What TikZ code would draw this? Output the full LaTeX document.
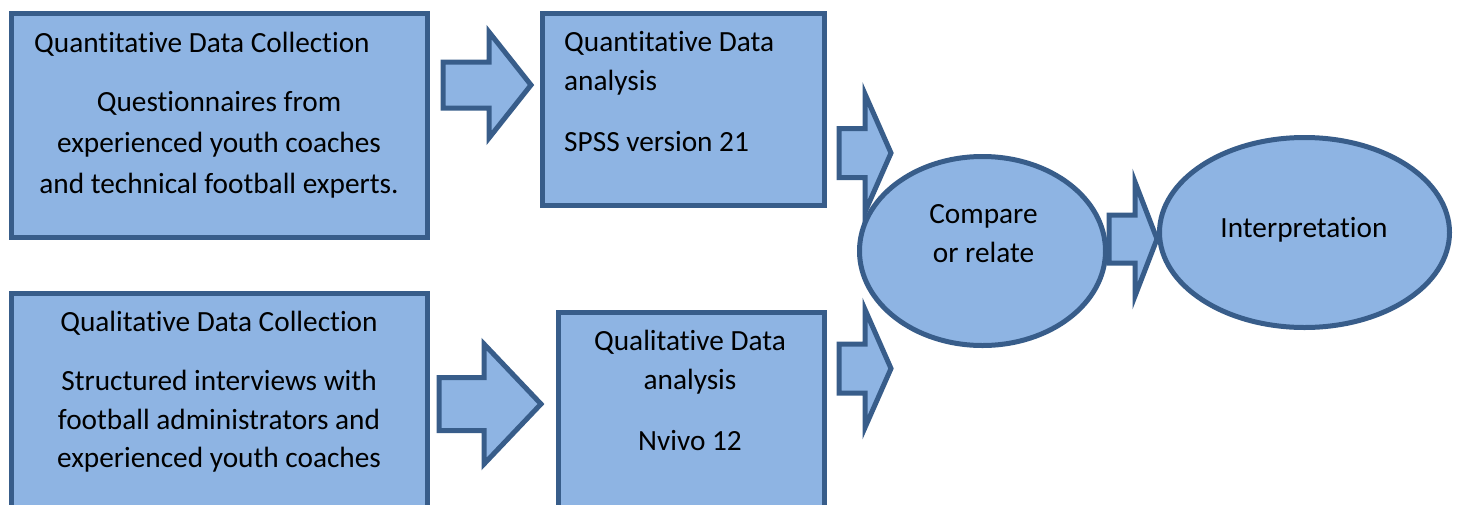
\documentclass[tikz,border=0pt]{standalone}
\usepackage{fontspec}
\setmainfont{Carlito}[Ligatures=NoCommon]
\usepackage{tikz}
\usetikzlibrary{shapes.geometric,positioning}
\definecolor{boxFill}{RGB}{142,180,227}
\definecolor{boxLine}{RGB}{56,93,138}

\tikzset{
  shapebox/.style={draw=boxLine, fill=boxFill, line width=5pt},
  txt/.style={inner sep=0pt, font=\fontsize{29.3}{39}\selectfont, align=center},
  txtl/.style={txt, anchor=west, align=left}
}
% block arrow: tail x, centre y, half body, head base x, half head, tip x
\newcommand{\blockarrow}[6]{%
  \draw[shapebox] (#1,#2-#3) -- (#4,#2-#3) -- (#4,#2-#5) -- (#6,#2)
    -- (#4,#2+#5) -- (#4,#2+#3) -- (#1,#2+#3) -- cycle;}

\begin{document}
\begin{tikzpicture}[x=1pt, y=-1pt]
  \useasboundingbox (0,0) rectangle (1459,504);
  \clip (0,0) rectangle (1459,504);
  % quantitative strand (top row)
  \draw[shapebox](11,13) rectangle (427,237);
  \node[txtl] (quancollT) at (34,44){Quantitative Data Collection};
  \node[txt,font=\fontsize{29.3}{41}\selectfont] (quancollB) at (219,145){Questionnaires from\\experienced youth coaches\\and technical football experts.};
  \blockarrow{443}{85}{23}{489}{53}{531}
  \draw[shapebox](542,13) rectangle (824,205);
  \node[txtl] (quananT) at (564,63){Quantitative Data\\analysis};
  \node[txtl] (quananB) at (564,142){SPSS version 21};
  % qualitative strand (bottom row, runs off the page)
  \draw[shapebox](11,293) rectangle (427,530);
  \node[txt] (qualcollT) at (219,323){Qualitative Data Collection};
  \node[txt,font=\fontsize{29.3}{38.5}\selectfont] (qualcollB) at (219,421.5){Structured interviews with\\football administrators and\\experienced youth coaches};
  \blockarrow{439}{404}{26.5}{484}{60}{541}
  \draw[shapebox](558,312) rectangle (824,530);
  \node[txt] (qualanT) at (690,362){Qualitative Data\\analysis};
  \node[txt] (qualanB) at (690,441){Nvivo 12};
  % merge into the two ellipses
  \blockarrow{839}{153}{24.5}{865}{59}{891}
  \blockarrow{839}{368.5}{24.5}{865}{59}{891}
  \draw[shapebox](982.5,251) ellipse [x radius=123, y radius=94.5];
  \node[txt] (compare) at (983.5,233.5){Compare\\or relate};
  \draw[shapebox](1304.5,232.5) ellipse [x radius=145, y radius=95];
  \blockarrow{1109}{239}{24}{1135}{57}{1157}
  \node[txt] (interp) at (1304,230){Interpretation};
\end{tikzpicture}
\end{document}
